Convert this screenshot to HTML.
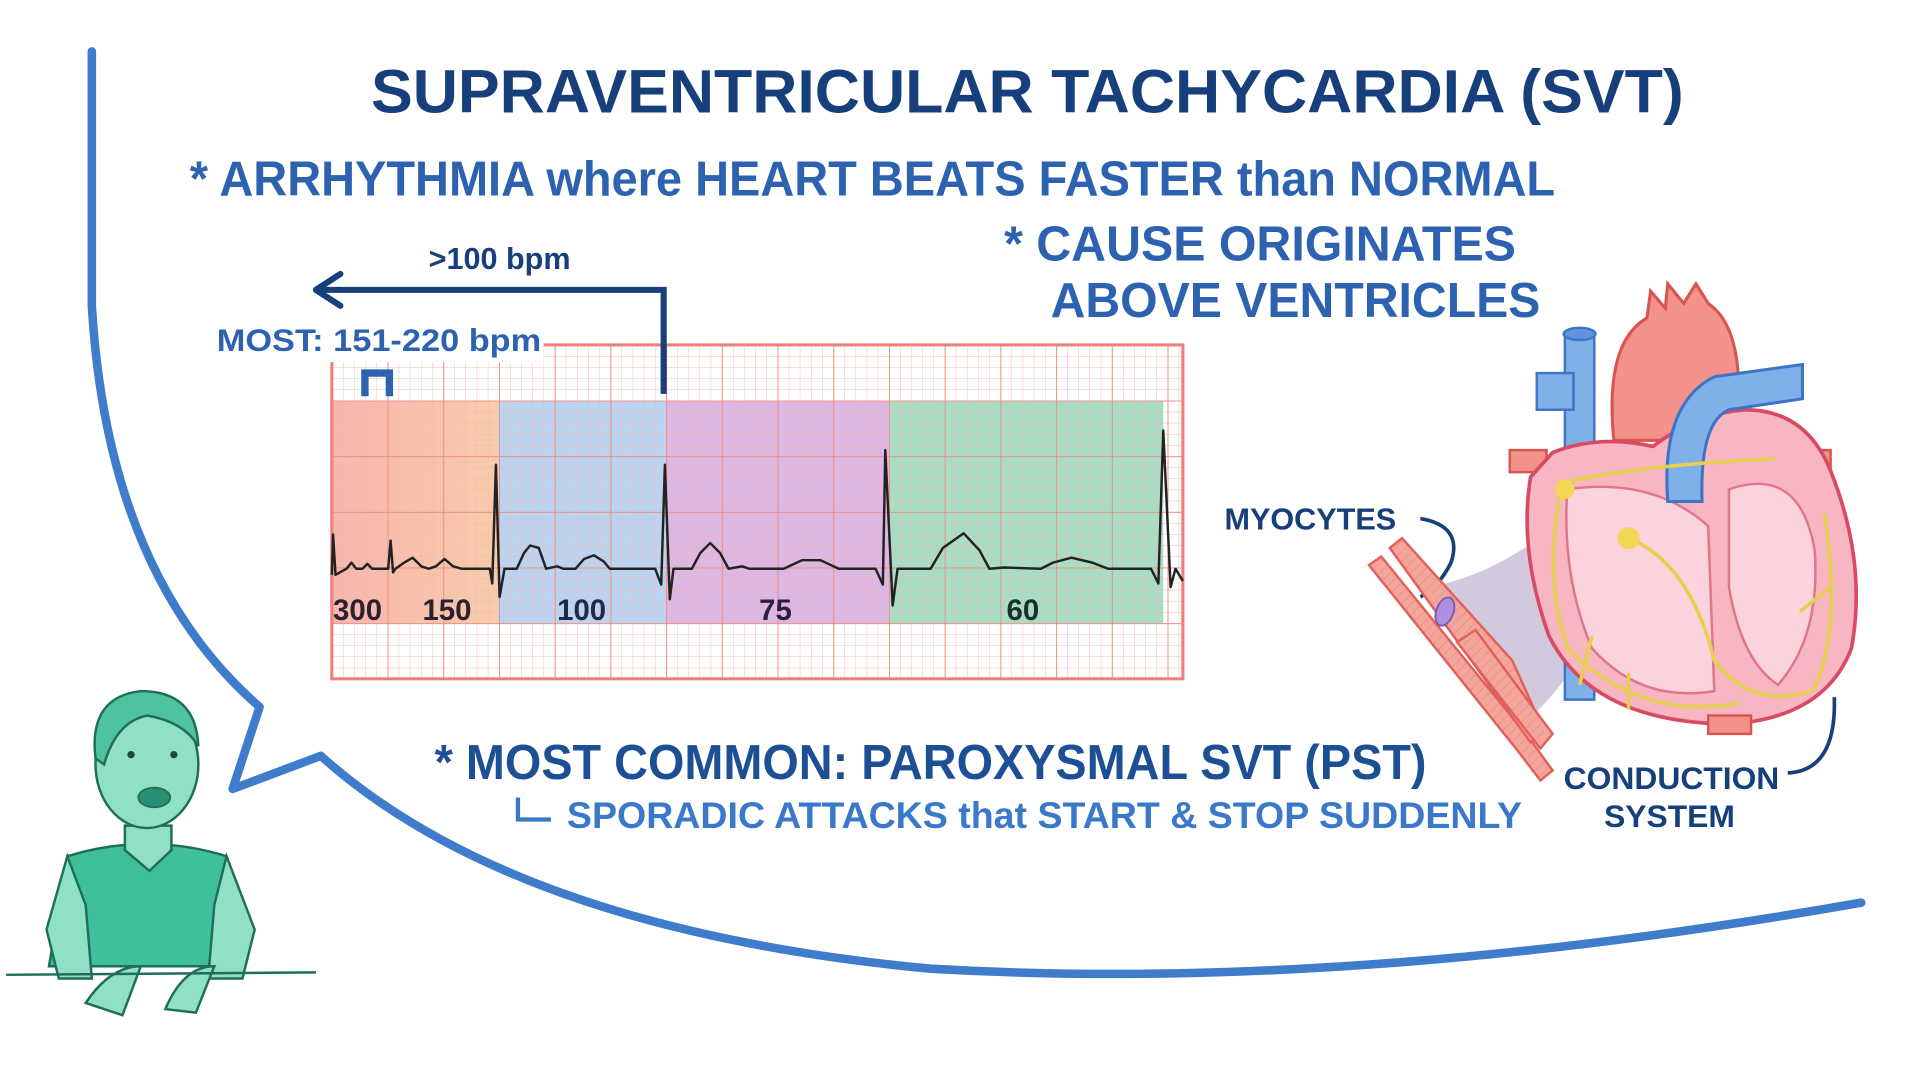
<!DOCTYPE html>
<html><head><meta charset="utf-8"><style>
html,body{margin:0;padding:0;background:#fff;width:1920px;height:1080px;overflow:hidden}
svg{display:block}
text{font-family:"Liberation Sans",sans-serif;font-weight:bold}
</style></head><body>
<svg width="1920" height="1080" viewBox="0 0 1568 883" preserveAspectRatio="none">
<defs>
<pattern id="minor" x="271" y="282" width="9.1" height="9.1" patternUnits="userSpaceOnUse">
<path d="M0,0 H9.1 M0,0 V9.1" stroke="#f6b5b0" stroke-width="0.7" fill="none"/>
</pattern>
<pattern id="major" x="271" y="282" width="45.5" height="45.5" patternUnits="userSpaceOnUse">
<path d="M0,0 H45.5 M0,0 V45.5" stroke="#ee8a82" stroke-width="1.5" fill="none"/>
</pattern>
<pattern id="stri" width="6" height="6" patternUnits="userSpaceOnUse" patternTransform="rotate(-45)">
<path d="M0,0 H6" stroke="#e06a62" stroke-width="0.8"/>
</pattern>
<linearGradient id="og" x1="0" x2="1"><stop offset="0" stop-color="#f6a9a0"/><stop offset="1" stop-color="#f6c29a"/></linearGradient>
</defs>
<rect width="1568" height="883" fill="#fff"/>
<path d="M75,42 L75,250 Q88,470 212,578 L190,645 L262,618 Q420,760 760,792 Q1100,812 1520,738" fill="none" stroke="#3f7ccc" stroke-width="7" stroke-linecap="round" stroke-linejoin="round"/>
<text x="303" y="92" font-size="50" fill="#173f7c" textLength="1072" lengthAdjust="spacingAndGlyphs">SUPRAVENTRICULAR TACHYCARDIA (SVT)</text>
<text x="155" y="160" font-size="40" fill="#2c62b0" textLength="1115" lengthAdjust="spacingAndGlyphs">* ARRHYTHMIA where HEART BEATS FASTER than NORMAL</text>
<text x="820" y="213" font-size="40" fill="#2c62b0" textLength="418" lengthAdjust="spacingAndGlyphs">* CAUSE ORIGINATES</text>
<text x="858" y="259" font-size="40" fill="#2c62b0" textLength="400" lengthAdjust="spacingAndGlyphs">ABOVE VENTRICLES</text>
<rect x="271" y="282" width="695" height="273" fill="#fff"/>
<rect x="271" y="328" width="136" height="182" fill="url(#og)" opacity="0.85"/>
<rect x="407" y="328" width="137" height="182" fill="#bcd3f0"/>
<rect x="544" y="328" width="182" height="182" fill="#dcb7e2"/>
<rect x="726" y="328" width="224" height="182" fill="#a9dcc4"/>
<rect x="271" y="282" width="695" height="273" fill="url(#minor)"/>
<rect x="271" y="282" width="695" height="273" fill="url(#major)"/>
<rect x="271" y="282" width="695" height="273" fill="none" stroke="#ee8078" stroke-width="2.5"/>
<path d="M271,470 L272,437 L274,470 L283,465 L287,460 L291,465 L296,465 L300,461 L304,465 L317,465 L319,442 L321,468 L323,465 L330,460 L337,456 L344,463 L350,465 L356,463 L363,457 L370,463 L377,465 L400,465 L402,477 L405,380 L408,488 L412,465 L422,465 L428,452 L433,446 L440,448 L446,465 L455,463 L460,465 L470,465 L477,457 L485,454 L493,459 L498,465 L535,465 L540,478 L543,380 L547,490 L550,465 L565,465 L572,452 L580,444 L588,452 L595,465 L606,463 L612,465 L640,465 L655,458 L670,458 L685,465 L715,465 L721,478 L723,368 L729,495 L733,465 L760,465 L770,448 L787,436 L800,450 L808,465 L820,464 L850,465 L860,460 L875,456 L892,460 L905,465 L940,465 L946,477 L950,352 L956,480 L960,465 L966,475" fill="none" stroke="#222" stroke-width="2" stroke-linejoin="round"/>
<g font-size="24" fill="#2a2230">
<text x="272" y="507">300</text><text x="345" y="507">150</text><text x="455" y="507" fill="#1f2a4a">100</text><text x="620" y="507" fill="#2a1f40">75</text><text x="822" y="507" fill="#14332a">60</text>
</g>
<path d="M262,237 H542 V322" fill="none" stroke="#173f7c" stroke-width="5"/>
<path d="M278,224 L258,237 L278,250" fill="none" stroke="#173f7c" stroke-width="5" stroke-linecap="round" stroke-linejoin="round"/>
<text x="350" y="220" font-size="25" fill="#173f7c">&gt;100 bpm</text>
<rect x="174" y="262" width="270" height="34" fill="#fff"/>
<text x="177" y="287" font-size="26" fill="#2c62b0" textLength="265" lengthAdjust="spacingAndGlyphs">MOST: 151-220 bpm</text>
<path d="M298,324 V305 H318 V324" fill="none" stroke="#2c62b0" stroke-width="6"/>
<text x="355" y="637" font-size="40" fill="#1d4f95" textLength="810" lengthAdjust="spacingAndGlyphs">* MOST COMMON: PAROXYSMAL SVT (PST)</text>
<path d="M423,652 V670 H450" fill="none" stroke="#3a78c9" stroke-width="3.5"/>
<text x="463" y="677" font-size="30" fill="#3a78c9" textLength="780" lengthAdjust="spacingAndGlyphs">SPORADIC ATTACKS that START &amp; STOP SUDDENLY</text>
<text x="1000" y="433" font-size="25" fill="#173f7c">MYOCYTES</text>
<path d="M1160,424 Q1195,430 1185,460 Q1175,480 1160,488" fill="none" stroke="#173f7c" stroke-width="3"/>
<text x="1277" y="645" font-size="26" fill="#173f7c">CONDUCTION</text>
<text x="1310" y="676" font-size="26" fill="#173f7c">SYSTEM</text>
<path d="M1460,632 Q1500,630 1498,570" fill="none" stroke="#173f7c" stroke-width="3"/>
<path d="M1168,480 Q1220,470 1270,430 L1285,545 Q1265,575 1245,590 Z" fill="#c8bcd6" opacity="0.8"/>
<!-- myocytes -->
<g stroke="#e0605a" stroke-width="2">
<path d="M1118,462 L1128,455 L1250,605 L1268,630 L1258,638 L1238,612 Z" fill="#f4a59c"/>
<path d="M1135,448 L1145,440 L1235,540 L1262,600 L1250,607 Z" fill="#f4a59c"/>
<path d="M1190,525 L1205,515 L1268,600 L1258,612 Z" fill="#f4a59c"/>
</g>
<path d="M1118,462 L1128,455 L1250,605 L1268,630 L1258,638 L1238,612 Z M1135,448 L1145,440 L1235,540 L1262,600 L1250,607 Z" fill="url(#stri)" opacity="0.6"/>
<ellipse cx="1180" cy="500" rx="7" ry="12" fill="#b08ee0" stroke="#7c56b8" stroke-width="1.5" transform="rotate(20 1180 500)"/>
<!-- heart -->
<path d="M1233,368 h30 v18 h-30 Z M1470,368 h25 v18 h-25 Z" fill="#f3928a" stroke="#d9534f" stroke-width="2"/>
<path d="M1318,360 Q1310,280 1345,260 L1348,238 L1360,252 L1362,232 L1375,248 L1385,232 L1395,248 Q1420,265 1420,320 L1420,360 Z" fill="#f3928a" stroke="#d9534f" stroke-width="2.5"/>
<path d="M1278,272 h24 v300 h-24 Z" fill="#7fb0ea" stroke="#3f74c4" stroke-width="2"/>
<ellipse cx="1290" cy="273" rx="13" ry="5" fill="#5f95dc" stroke="#3f74c4" stroke-width="2"/>
<path d="M1255,305 h30 v30 h-30 Z" fill="#7fb0ea" stroke="#3f74c4" stroke-width="2"/>
<path d="M1250,390 Q1240,450 1265,520 Q1300,590 1410,592 Q1490,588 1512,530 Q1525,460 1495,385 Q1475,335 1425,335 Q1385,338 1350,365 Q1305,355 1268,370 Z" fill="#f7b6c2" stroke="#d94a64" stroke-width="3"/>
<path d="M1280,400 Q1275,470 1300,530 Q1340,575 1400,565 L1395,430 Q1350,390 1280,400 Z" fill="#fbd3dc" stroke="#e07488" stroke-width="2"/>
<path d="M1412,400 Q1470,380 1482,450 Q1487,520 1452,560 Q1422,540 1412,480 Z" fill="#fbd3dc" stroke="#e07488" stroke-width="2"/>
<path d="M1362,410 Q1356,330 1400,308 L1472,298 L1472,326 L1412,335 Q1388,345 1390,410 Z" fill="#7fb0ea" stroke="#3f74c4" stroke-width="2.5"/>
<rect x="1395" y="585" width="35" height="15" fill="#f3928a" stroke="#d9534f" stroke-width="2"/>
<path d="M1275,395 Q1340,380 1450,375 M1275,400 Q1260,470 1280,530 Q1340,590 1420,575 M1330,440 Q1380,460 1400,540 Q1430,580 1480,565 Q1505,520 1490,420 M1300,520 L1290,560 M1330,550 L1330,580 M1470,500 L1495,480" fill="none" stroke="#e6cf52" stroke-width="3"/>
<circle cx="1278" cy="400" r="8" fill="#f2d654"/>
<circle cx="1330" cy="440" r="9" fill="#f2d654"/>
<!-- person -->
<path d="M55,700 Q120,680 185,700 L200,790 L40,790 Z" fill="#3fbf9a" stroke="#1f6e5a" stroke-width="2"/>
<path d="M55,700 L38,760 L48,800 L75,800 L70,740 Z M185,700 L208,760 L198,800 L170,800 L175,740 Z" fill="#8fe0c4" stroke="#1f6e5a" stroke-width="2"/>
<path d="M102,675 L140,675 L140,695 L122,712 L102,695 Z" fill="#8fe0c4" stroke="#1f6e5a" stroke-width="2"/>
<ellipse cx="120" cy="625" rx="42" ry="52" fill="#8fe0c4" stroke="#1f6e5a" stroke-width="2"/>
<path d="M78,620 Q72,570 115,565 Q160,565 162,610 Q150,590 120,585 Q95,590 85,625 Z" fill="#4fc3a0" stroke="#1f6e5a" stroke-width="2"/>
<circle cx="107" cy="617" r="3" fill="#1f4a40"/><circle cx="142" cy="617" r="3" fill="#1f4a40"/>
<ellipse cx="126" cy="652" rx="13" ry="8" fill="#2a8f74" stroke="#1f6e5a" stroke-width="1.5"/>
<path d="M70,820 Q90,790 115,790 L100,830 Z M135,825 Q150,790 175,790 L160,828 Z" fill="#8fe0c4" stroke="#1f6e5a" stroke-width="2"/>
<line x1="5" y1="797" x2="258" y2="795" stroke="#1f6e5a" stroke-width="2"/>
</svg>
</body></html>
